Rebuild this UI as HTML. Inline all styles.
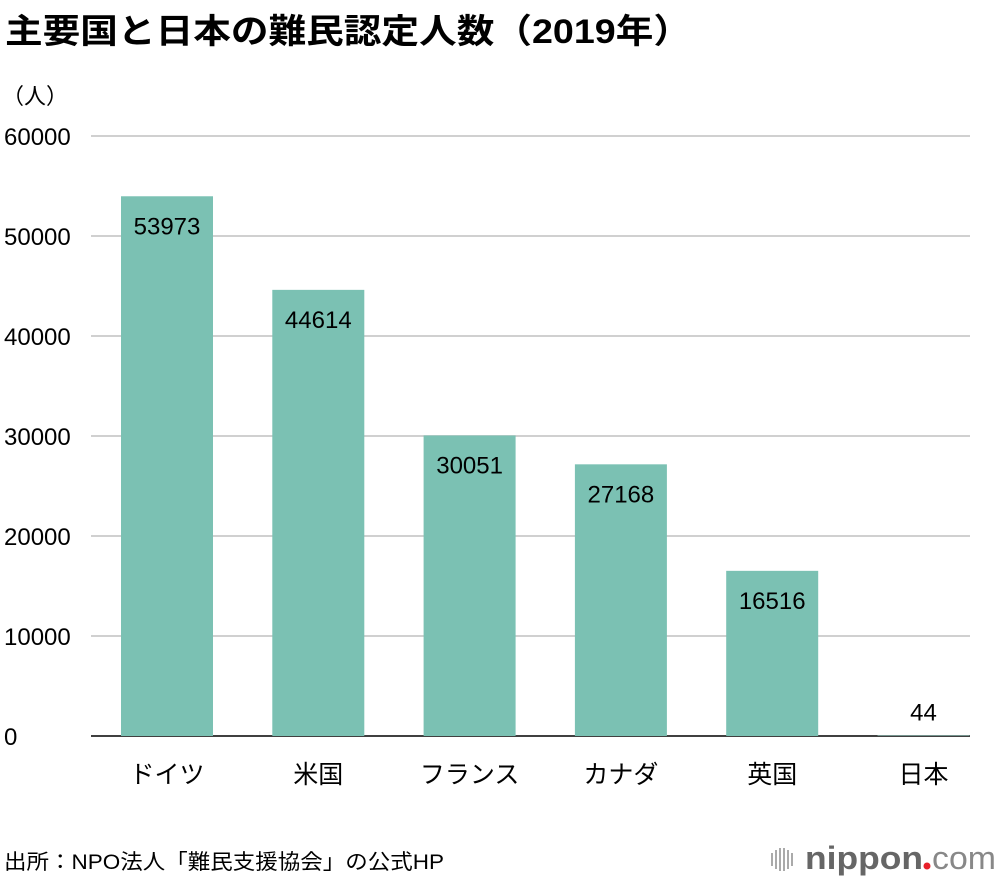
<!DOCTYPE html>
<html><head><meta charset="utf-8"><style>
html,body{margin:0;padding:0;background:#fff;}
svg{display:block;font-family:"Liberation Sans","Noto Sans CJK JP",sans-serif;}
</style></head><body>
<svg id="chart" width="1000" height="880">
<text x="5" y="43" font-size="34" font-weight="bold" textLength="686" lengthAdjust="spacingAndGlyphs" fill="#000">主要国と日本の難民認定人数（2019年）</text>
<text x="2" y="104" font-size="22" fill="#000">（人）</text>
<g id="grid"></g><g id="bars"></g>
<text x="4" y="869" font-size="21" fill="#000" textLength="440" lengthAdjust="spacingAndGlyphs">出所：NPO法人「難民支援協会」の公式HP</text>
<g>
<g stroke="#aaa" stroke-width="2"><line x1="772" y1="853" x2="772" y2="866"/><line x1="776" y1="850" x2="776" y2="869"/><line x1="780" y1="848" x2="780" y2="871"/><line x1="784" y1="848" x2="784" y2="871"/><line x1="788" y1="850" x2="788" y2="869"/><line x1="792" y1="853" x2="792" y2="866"/></g>
<text x="805" y="869" font-size="32" fill="#666" font-weight="bold" textLength="118" lengthAdjust="spacingAndGlyphs">nippon</text>
<circle cx="927" cy="866" r="3.5" fill="#e8202a"/>
<text x="932" y="869" font-size="32" fill="#888" textLength="64" lengthAdjust="spacingAndGlyphs">com</text>
</g>
</svg>
<script>
const categories=["ドイツ","米国","フランス","カナダ","英国","日本"];
const values=[53973,44614,30051,27168,16516,44];
const ticks=[0,10000,20000,30000,40000,50000,60000];
const NS="http://www.w3.org/2000/svg";
const y0=736,yPer=600/60000,x0=91,x1=970,step=151.3,first=167,bw=92;
const yS=v=>y0-v*yPer, xS=i=>first+i*step;
function mk(t,a,p){const e=document.createElementNS(NS,t);for(const k in a)e.setAttribute(k,a[k]);p.appendChild(e);return e;}
const g=document.getElementById('grid'),b=document.getElementById('bars');
ticks.forEach(t=>{
 const l=mk('line',{x1:x0,x2:x1,y1:yS(t),y2:yS(t),stroke:t===0?'#000':'#d0d0d0','stroke-width':t===0?1.5:2},g);
 
 
 const tx=mk('text',{x:4,y:yS(t)+9,'font-size':24,fill:'#000'},g);tx.textContent=t;
 
 
});
categories.forEach((c,i)=>{
 const v=values[i],top=yS(v);
 const r=mk('rect',{x:xS(i)-bw/2,y:top,width:bw,height:y0-top,fill:'#7bc1b3'},b);
 
 
 const inside=(y0-top)>50;
 const vl=mk('text',{x:xS(i),y:inside?top+38:top-15,'font-size':24,'text-anchor':'middle',fill:'#000'},b);vl.textContent=v;
 
 
 const cl=mk('text',{x:xS(i),y:783,'font-size':25,'text-anchor':'middle',fill:'#000'},b);cl.textContent=c;
 
 
});
</script>
</body></html>
